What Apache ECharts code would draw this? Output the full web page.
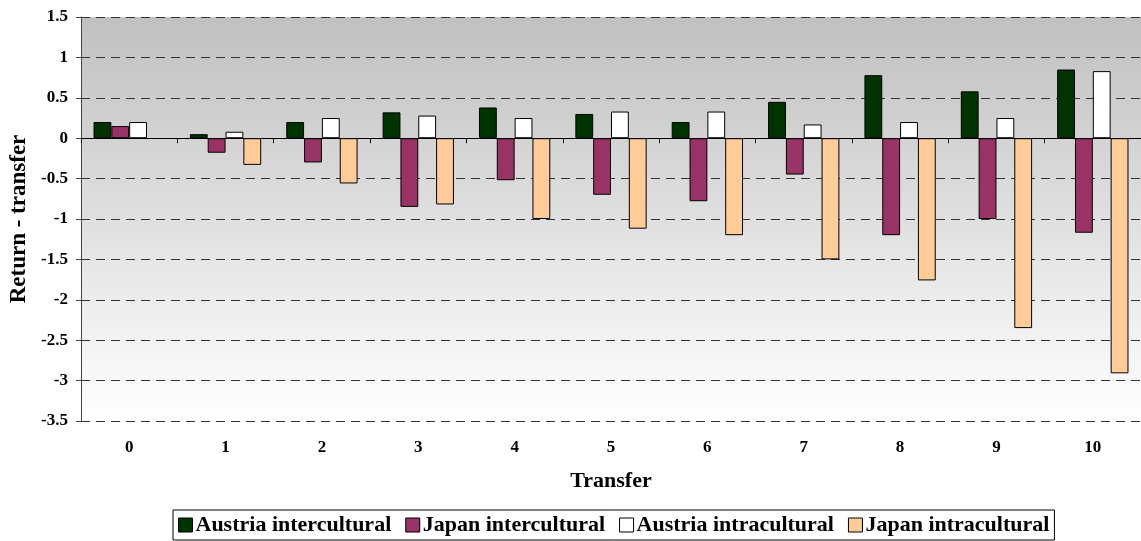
<!DOCTYPE html>
<html>
<head>
<meta charset="utf-8">
<script src="https://cdn.jsdelivr.net/npm/echarts@6/dist/echarts.min.js"></script>
<style>
html,body{margin:0;padding:0;background:#fff;}
#main{width:1141px;height:541px;}
</style>
</head>
<body>
<div id="main"></div>
<script>
var categories = ['0','1','2','3','4','5','6','7','8','9','10'];
var austriaInter = [0.2, 0.05, 0.2, 0.32, 0.38, 0.30, 0.20, 0.45, 0.78, 0.58, 0.85];
var japanInter   = [0.15, -0.18, -0.30, -0.85, -0.52, -0.70, -0.78, -0.45, -1.20, -1.00, -1.17];
var austriaIntra = [0.2, 0.08, 0.25, 0.28, 0.25, 0.33, 0.33, 0.17, 0.20, 0.25, 0.83];
var japanIntra   = [null, -0.33, -0.56, -0.82, -1.00, -1.12, -1.20, -1.50, -1.76, -2.35, -2.91];
var seriesNames = ['Austria intercultural','Japan intercultural','Austria intracultural','Japan intracultural'];
var seriesColors = ['#003300','#993366','#ffffff','#ffcc99'];

var font = 'Liberation Serif';
var chart = echarts.init(document.getElementById('main'), null, {renderer:'canvas'});
var dataSets = [austriaInter, japanInter, austriaIntra, japanIntra];
var series = dataSets.map(function(d, i){
  return {
    name: seriesNames[i], type: 'bar', data: d, xAxisIndex: 0,
    barGap: '0%', barCategoryGap: '26%',
    itemStyle: {color: seriesColors[i], borderColor: '#000', borderWidth: 1},
    emphasis: {disabled: true}, animation: false
  };
});
chart.setOption({
  animation: false,
  grid: {left: 81, top: 17, right: 0, bottom: 120, show: true,
    containLabel: false, outerBoundsMode: 'none',
    borderWidth: 0,
    backgroundColor: new echarts.graphic.LinearGradient(0,0,0,1,[
      {offset:0,color:'#c0c0c0'},{offset:1,color:'#ffffff'}])},
  legend: {
    data: seriesNames, bottom: 1, left: 173,
    icon: 'rect', itemWidth: 14, itemHeight: 14, itemGap: 14,
    borderColor: '#000', borderWidth: 1, padding: [4, 5, 4, 5],
    textStyle: {fontFamily: font, fontWeight: 'bold', fontSize: 22, color: '#000', padding:[0,0,0,-2]},
    itemStyle: {borderColor: '#000', borderWidth: 1}
  },
  xAxis: [{
    type: 'category', data: categories,
    axisLine: {onZero: true, lineStyle: {color: '#000', width: 1}},
    axisTick: {show: true, length: 5, lineStyle: {color: '#000'}},
    axisLabel: {show: false},
    splitLine: {show: false}
  },{
    type: 'category', data: categories, position: 'bottom',
    axisLine: {show: false}, axisTick: {show: false},
    axisLabel: {margin: 18, fontFamily: font, fontWeight: 'bold', fontSize: 17, color: '#000'},
    name: 'Transfer', nameLocation: 'middle', nameGap: 49,
    nameTextStyle: {fontFamily: font, fontWeight: 'bold', fontSize: 22, color: '#000'}
  }],
  yAxis: {
    type: 'value', min: -3.5, max: 1.5, interval: 0.5,
    axisLine: {show: true, lineStyle: {color: '#444', width: 1}},
    axisTick: {show: true, length: 5, lineStyle: {color: '#444'}},
    axisLabel: {margin: 13, fontFamily: font, fontWeight: 'bold', fontSize: 17, color: '#000'},
    splitLine: {show: true, lineStyle: {color: '#333', type: [9, 6], width: 1}},
    name: 'Return - transfer', nameLocation: 'middle', nameGap: 48,
    nameTextStyle: {fontFamily: font, fontWeight: 'bold', fontSize: 23, color: '#000'}
  },
  series: series
});
</script>
</body>
</html>
